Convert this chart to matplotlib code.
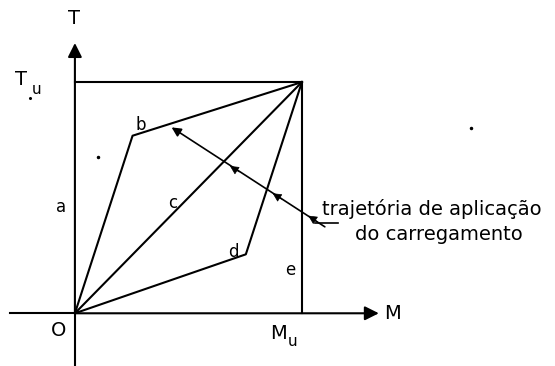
import numpy as np
import matplotlib.pyplot as plt

# diagram data (M/Mu, T/Tu)
Mu = 1.0
Tu = 1.0
path_b = [(0, 0), (0.254, 0.768), (Mu, Tu)]
path_c = [(0, 0), (Mu, Tu)]
path_d = [(0, 0), (0.753, 0.255), (Mu, Tu)]
traj_start = (0.426, 0.804)
traj_end = (1.101, 0.374)
traj_marks = [(0.683, 0.637), (0.871, 0.519), (1.028, 0.422)]
specks = [(0.102, 0.677), (1.744, 0.801)]

fig = plt.figure(figsize=(5.55, 3.66), dpi=100)
ax = fig.add_axes([0, 0, 1, 1])
ax.set_xlim(-0.330, 2.115)
ax.set_ylim(-0.228, 1.355)
ax.axis('off')

lw = 1.5
k = 'black'

# axes with arrows
ax.plot([-0.286, 0], [0, 0], color=k, lw=lw)
ax.plot([0, 0], [-0.228, 0], color=k, lw=lw)
ax.annotate('', xy=(1.339, 0), xytext=(0, 0),
            arrowprops=dict(arrowstyle='-|>,head_length=0.6,head_width=0.3', color=k,
                            lw=lw, mutation_scale=14, shrinkA=0, shrinkB=0))
ax.annotate('', xy=(0, 1.169), xytext=(0, 0),
            arrowprops=dict(arrowstyle='-|>,head_length=0.6,head_width=0.3', color=k,
                            lw=lw, mutation_scale=14, shrinkA=0, shrinkB=0))

# limits box
ax.plot([0, Mu], [Tu, Tu], color=k, lw=lw)
ax.plot([Mu, Mu], [0, Tu], color=k, lw=lw)

for p in [path_b, path_c, path_d]:
    xs, ys = zip(*p)
    ax.plot(xs, ys, color=k, lw=lw)

# loading path
ax.annotate('', xy=traj_start, xytext=traj_end,
            arrowprops=dict(arrowstyle='-|>,head_length=0.5,head_width=0.25', color=k,
                            lw=1.2, mutation_scale=11, shrinkA=0, shrinkB=0))
dx = traj_start[0] - traj_end[0]
dy = traj_start[1] - traj_end[1]
step = 0.06
for (x, y) in traj_marks:
    ax.annotate('', xy=(x, y), xytext=(x - dx * step, y - dy * step),
                arrowprops=dict(arrowstyle='-|>,head_length=0.5,head_width=0.25', color=k,
                                lw=0.5, mutation_scale=11, shrinkA=0, shrinkB=0))
ax.plot([1.057, 1.159], [0.390, 0.390], color=k, lw=1.2)

ax.plot(*zip(*specks), 'o', color=k, ms=1.5)

fs = 14
ax.text(-0.004, 1.275, 'T', fontsize=fs, ha='center', va='center')
ax.text(-0.236, 1.011, 'T', fontsize=fs, ha='center', va='center')
ax.text(-0.170, 0.966, 'u', fontsize=11, ha='center', va='center')
ax.plot([-0.197], [0.929], 'o', color=k, ms=1.2)
ax.text(-0.073, -0.074, 'O', fontsize=fs, ha='center', va='center')
ax.text(1.401, 0.0, 'M', fontsize=fs, ha='center', va='center')
ax.text(0.896, -0.087, 'M', fontsize=fs, ha='center', va='center')
ax.text(0.958, -0.124, 'u', fontsize=11, ha='center', va='center')

for lab, (x, y) in zip('abcde', [(-0.062, 0.460), (0.289, 0.814), (0.431, 0.478),
                                (0.700, 0.266), (0.950, 0.187)]):
    ax.text(x, y, lab, fontsize=12, ha='center', va='center')

ax.text(1.087, 0.425, 'trajetória de aplicação', fontsize=fs, ha='left', va='baseline')
ax.text(1.604, 0.316, 'do carregamento', fontsize=fs, ha='center', va='baseline')

fig.savefig('out.png', dpi=100)
